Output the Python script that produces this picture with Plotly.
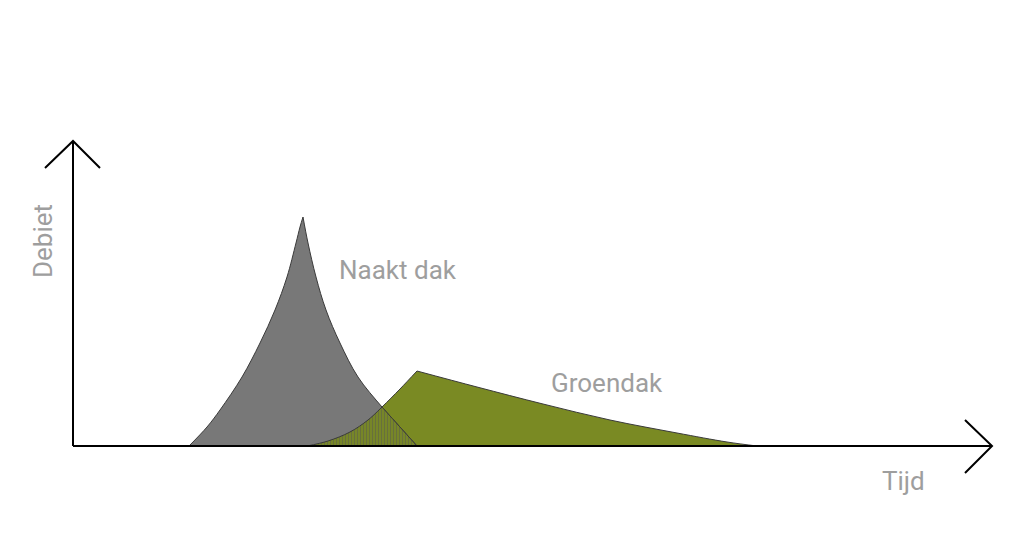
import plotly.graph_objects as go

# ---------------------------------------------------------------
# Afvoer (debiet) over tijd: naakt dak vs groendak
# ---------------------------------------------------------------
# naakt dak: stijgende en dalende tak (tijd, debiet)
naakt_stijg_t = [1.16, 1.34, 1.47, 1.69, 1.87, 2.02, 2.14, 2.23, 2.27, 2.30]
naakt_stijg_q = [0.00, 0.19, 0.36, 0.69, 1.03, 1.36, 1.69, 2.03, 2.19, 2.29]
naakt_daal_t = [2.30, 2.35, 2.43, 2.53, 2.67, 2.85, 3.09, 3.265, 3.44]
naakt_daal_q = [2.29, 2.03, 1.69, 1.36, 1.03, 0.69, 0.39, 0.195, 0.00]

# groendak
groen_stijg_t = [2.34, 2.55, 2.77, 2.95, 3.09, 3.27, 3.44]
groen_stijg_q = [0.00, 0.05, 0.14, 0.26, 0.39, 0.57, 0.75]
groen_daal_t = [3.44, 4.04, 4.70, 5.37, 6.04, 6.54, 6.84]
groen_daal_q = [0.75, 0.59, 0.42, 0.26, 0.13, 0.04, 0.00]

labels = {"naakt": "Naakt dak", "groen": "Groendak", "x": "Tijd", "y": "Debiet"}

GRIJS = "#787878"
GROEN = "#7a8a23"
RAND = "#3a3a3a"
TEKST = "#9e9e9e"

fig = go.Figure()


def vlak(t, q, kleur, **kw):
    fig.add_trace(go.Scatter(x=t, y=q, mode="lines", fill="tozeroy", fillcolor=kleur,
                             line=dict(color=RAND, width=1, shape="spline", smoothing=1.0),
                             hoverinfo="skip", **kw))


vlak(groen_stijg_t, groen_stijg_q, GROEN)
vlak(groen_daal_t, groen_daal_q, GROEN)
vlak(naakt_stijg_t, naakt_stijg_q, GRIJS)
vlak(naakt_daal_t, naakt_daal_q, GRIJS)

# overlap (onder beide krommen) gearceerd
patroon = dict(shape="|", fgcolor="#555555", bgcolor=GROEN, size=3, solidity=0.45)
i = groen_stijg_t.index(3.09)
vlak(groen_stijg_t[:i + 1], groen_stijg_q[:i + 1], GROEN, fillpattern=patroon)
k = naakt_daal_t.index(3.09)
vlak(naakt_daal_t[k:], naakt_daal_q[k:], GROEN, fillpattern=patroon)

# assen met pijlen
pijl = dict(color="black", width=2)
fig.add_shape(type="line", x0=0, y0=0, x1=0, y1=3.05, line=pijl)
fig.add_shape(type="path", path="M -0.28 2.78 L 0 3.05 L 0.27 2.78", line=pijl)
fig.add_shape(type="line", x0=0, y0=0, x1=9.19, y1=0, line=pijl)
fig.add_shape(type="path", path="M 8.92 0.26 L 9.19 0 L 8.92 -0.27", line=pijl)

font = dict(family="Roboto", size=26, color=TEKST)
fig.add_annotation(x=2.64, y=1.76, text=labels["naakt"], showarrow=False, xanchor="left", font=font)
fig.add_annotation(x=4.76, y=0.63, text=labels["groen"], showarrow=False, xanchor="left", font=font)
fig.add_annotation(x=8.07, y=-0.35, text=labels["x"], showarrow=False, xanchor="left", font=font)
fig.add_annotation(x=-0.30, y=2.05, text=labels["y"], showarrow=False, textangle=-90, font=font)

# de pagina heeft 8px marge; bereik daarop afgestemd
fig.update_layout(
    width=1024, height=552,
    margin=dict(l=0, r=0, t=0, b=0),
    showlegend=False,
    plot_bgcolor="white", paper_bgcolor="white",
    xaxis=dict(range=[-0.65, 9.59], visible=False),
    yaxis=dict(range=[-1.14, 4.38], visible=False),
)

fig.write_html("out.html")
